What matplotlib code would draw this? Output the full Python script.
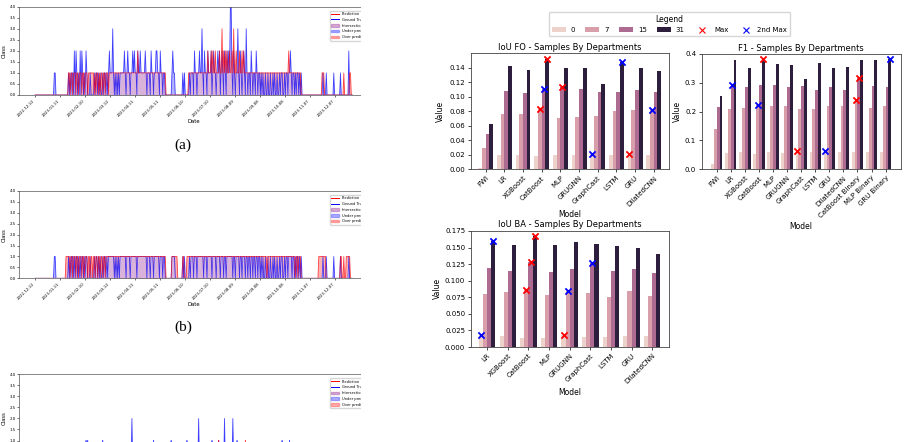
import numpy as np
import pandas as pd
import matplotlib
matplotlib.use("Agg")
import matplotlib.pyplot as plt
from matplotlib.patches import Patch, Rectangle
from matplotlib.lines import Line2D
import seaborn as sns

W, H = 907, 442

# ---------------- time series (one digit per day, from 2022-12-12) ----------------
start_date = "2022-12-12"

gt_a = ("0000000000 0000000000 0001100000 0000000000 1010110202 1010202101 0210001000 0101101010 "
        "0101101012 1113101010 1011111210 1211011212 1102112111 1121011102 1101122110 2110110000 "
        "0000121100 0000000101 0000010111 0211011211 3102110211 1201211012 1201210210 2121441021 "
        "0113102101 2103101102 1011021011 0101001001 0010010100 1001011001 0110112101 1010110101 "
        "0000000000 0000000000 0000010001 0000000010 0000001000 0000002000 0")
pred_a = ("0000000000 0000000000 0000000000 0000000000 1101101110 1101110110 1110111111 1010110101 "
          "1011011101 1111111111 1111111111 1111111111 1112111111 1111111111 1111111111 1111111000 "
          "0000000000 0000000000 0000111111 1111111111 1111111211 1212112111 1211312121 2112112131 "
          "1211121121 2111111111 1111111111 1111111111 1111111111 1111111111 1111211111 1111111110 "
          "0000000000 0000000000 0000111000 0000000000 0000000000 1000000110 0")

gt_b = ("0000000000 0000000000 0001100000 0000000000 1010110101 1010101101 0110001000 0101101010 "
        "0101101011 1111101010 1011111110 1111011111 1101111111 1111011101 1101111110 1110110000 "
        "0000111100 0000000101 0000010111 0111011111 1101110111 1101111011 1101110110 1111111011 "
        "0111101101 1101101101 1011011011 0101001001 0010010100 1001011001 0110111101 1010110101 "
        "0000000000 0000000000 0000010001 0000000010 0000001000 0000001000 0")
pred_b = ("0000000000 0000000000 0000000000 0000000111 1101101110 1101110110 1110110110 1101101101 "
          "1011011111 1111111111 1111111111 1111111111 1111111111 1111111111 1111111111 1111111000 "
          "0000111111 1000000110 0011111111 1111111111 1111111111 1111111111 1111111111 1111111111 "
          "1111111111 1111111111 1111111111 1111111101 1111111111 1111111111 1111111111 1101101110 "
          "0000000000 0000000000 1111111110 0000000000 0000001100 1001111100 0")

# panel (c): only the upper part is visible, non-zero days listed
n_days_c = 381
gt_c_days = [61, 63, 81, 116, 142, 163, 182, 196, 212, 220, 227, 237, 242, 296, 305]
gt_c_vals = [1, 1, 1, 2, 1, 1, 1, 2, 1, 1, 2, 2, 1, 1, 1]
pred_c_days = [220, 252]
pred_c_vals = [1, 1]

# ---------------- bar chart data ----------------
days = [0, 7, 15, 31]

fo_models = ["FWI", "LR", "XGBoost", "CatBoost", "MLP", "GRUGNN", "GraphCast", "LSTM", "GRU", "DilatedCNN"]
fo_0 = [0.002, 0.019, 0.019, 0.018, 0.019, 0.019, 0.0205, 0.020, 0.021, 0.020]
fo_7 = [0.029, 0.076, 0.076, 0.0825, 0.070, 0.072, 0.074, 0.080, 0.081, 0.082]
fo_15 = [0.048, 0.108, 0.105, 0.111, 0.113, 0.110, 0.107, 0.106, 0.109, 0.107]
fo_31 = [0.062, 0.142, 0.136, 0.152, 0.140, 0.140, 0.118, 0.147, 0.139, 0.135]

f1_models = ["FWI", "LR", "XGBoost", "CatBoost", "MLP", "GRUGNN", "GraphCast", "LSTM", "GRU",
             "DilatedCNN", "CatBoost Binary", "MLP Binary", "GRU Binary"]
f1_0 = [0.019, 0.057, 0.059, 0.054, 0.059, 0.057, 0.063, 0.061, 0.0625, 0.0615, 0.061, 0.060, 0.060]
f1_7 = [0.141, 0.208, 0.214, 0.222, 0.221, 0.218, 0.208, 0.208, 0.220, 0.219, 0.240, 0.212, 0.218]
f1_15 = [0.216, 0.294, 0.285, 0.293, 0.292, 0.284, 0.289, 0.276, 0.287, 0.276, 0.316, 0.290, 0.285]
f1_31 = [0.255, 0.378, 0.352, 0.382, 0.366, 0.362, 0.313, 0.369, 0.350, 0.354, 0.379, 0.379, 0.381]

ba_models = ["LR", "XGBoost", "CatBoost", "MLP", "GRUGNN", "GraphCast", "LSTM", "GRU", "DilatedCNN"]
ba_0 = [0.0176, 0.016, 0.014, 0.013, 0.0178, 0.015, 0.015, 0.016, 0.016]
ba_7 = [0.080, 0.083, 0.0857, 0.078, 0.0848, 0.081, 0.076, 0.0845, 0.077]
ba_15 = [0.119, 0.114, 0.128, 0.113, 0.118, 0.126, 0.114, 0.118, 0.111]
ba_31 = [0.160, 0.154, 0.167, 0.154, 0.158, 0.155, 0.153, 0.149, 0.140]


def parse(s):
    return np.array([int(c) for c in s if c.isdigit()], dtype=float)


def sparse(n, idx, vals):
    out = np.zeros(n)
    out[idx] = vals
    return out


fig = plt.figure(figsize=(W / 100, H / 100), dpi=100)


def px_axes(left, top, right, bottom):
    return fig.add_axes([left / W, 1 - bottom / H, (right - left) / W, (bottom - top) / H])


def draw_series(ax, gt, pred):
    x = pd.date_range(start_date, periods=len(gt), freq="D")
    ax.fill_between(x, 0, np.minimum(gt, pred), color="purple", alpha=0.3, lw=0)
    ax.fill_between(x, pred, gt, where=gt > pred, interpolate=True, color="blue", alpha=0.3, lw=0)
    ax.fill_between(x, gt, pred, where=pred > gt, interpolate=True, color="red", alpha=0.3, lw=0)
    ax.plot(x, gt, color="blue", lw=0.6, alpha=0.7)
    ax.plot(x, pred, color="red", lw=0.6, alpha=0.7)

    t0 = pd.Timestamp(start_date)
    ax.set_xlim(t0 - pd.Timedelta(days=19), t0 + pd.Timedelta(days=399))
    ax.set_ylim(0, 4)
    ax.set_yticks(np.arange(0, 4.01, 0.5))
    ticks = pd.date_range(start_date, periods=13, freq="30D")
    ax.set_xticks(ticks)
    ax.set_xticklabels([t.strftime("%Y-%m-%d") for t in ticks], rotation=45, ha="right")
    ax.tick_params(labelsize=2.8, length=1.5, width=0.4, pad=1)
    ax.set_ylabel("Class", fontsize=3.8, labelpad=2)
    ax.set_xlabel("Date", fontsize=3.8, labelpad=1)
    for sp in ax.spines.values():
        sp.set_linewidth(0.5)
        sp.set_color("#555555")

    handles = [Line2D([], [], color="red", lw=0.7), Line2D([], [], color="blue", lw=0.7),
               Patch(color="purple", alpha=0.3), Patch(color="blue", alpha=0.3), Patch(color="red", alpha=0.3)]
    labels = ["Prediction", "Ground Truth", "Intersection", "Under prediction", "Over prediction"]
    top_px = (1 - ax.get_position().y1) * H
    ax.legend(handles, labels, loc="upper left", bbox_to_anchor=(328 / W, 1 - (top_px + 2) / H),
              bbox_transform=fig.transFigure, fontsize=2.6, frameon=True, handlelength=2.2,
              borderpad=0.4, labelspacing=0.5, framealpha=0.8)


ax_a = px_axes(19.3, 6.7, 368, 95)
draw_series(ax_a, parse(gt_a), parse(pred_a))
ax_b = px_axes(19.3, 191, 368, 278.3)
draw_series(ax_b, parse(gt_b), parse(pred_b))
ax_c = px_axes(19.3, 374.3, 368, 462.6)
draw_series(ax_c, sparse(n_days_c, gt_c_days, gt_c_vals), sparse(n_days_c, pred_c_days, pred_c_vals))

fig.text(183 / W, 1 - 145 / H, "(a)", ha="center", va="center", family="Liberation Serif", fontsize=11)
fig.text(183 / W, 1 - 327 / H, "(b)", ha="center", va="center", family="Liberation Serif", fontsize=11)

# the left figure is cropped at its right edge
fig.add_artist(Rectangle((361 / W, 0), (432 - 361) / W, 1, transform=fig.transFigure,
                         facecolor="white", edgecolor="none", zorder=10))

# ---------------- bar charts ----------------
cmap = sns.cubehelix_palette(as_cmap=True)
hue_colors = [cmap(d / max(days)) for d in days]
offsets = [-0.3, -0.1, 0.1, 0.3]


def draw_bars(ax, models, series, title, xlim, ylabel_x):
    x = np.arange(len(models))
    for j, vals in enumerate(series):
        ax.bar(x + offsets[j], vals, width=0.2, color=hue_colors[j], lw=0)
    for j, vals in enumerate(series):
        vals = np.asarray(vals)
        order = np.argsort(vals)[::-1]
        ax.scatter(x[order[0]] + offsets[j], vals[order[0]], marker="x", color="red", s=20, lw=1.3, zorder=3)
        ax.scatter(x[order[1]] + offsets[j], vals[order[1]], marker="x", color="blue", s=20, lw=1.3, zorder=3)
    ax.set_xlim(*xlim)
    ax.set_xticks(x)
    ax.set_xticklabels(models, rotation=45, ha="right", rotation_mode="anchor")
    ax.tick_params(labelsize=5, length=2.5, width=0.5, pad=1.5)
    ax.set_title(title, fontsize=6, pad=2.5)
    ax.set_xlabel("Model", fontsize=5.5, labelpad=2)
    ax.set_ylabel("Value", fontsize=5.5)
    ax.yaxis.set_label_coords(ylabel_x, 0.5)
    for sp in ax.spines.values():
        sp.set_linewidth(0.6)
        sp.set_color("#444444")


ax_fo = px_axes(470.7, 53.3, 668.7, 169.3)
draw_bars(ax_fo, fo_models, [fo_0, fo_7, fo_15, fo_31], "IoU FO - Samples By Departments",
          (-0.8, 9.8), -0.13)
ax_f1 = px_axes(701.7, 54, 900.7, 169.3)
draw_bars(ax_f1, f1_models, [f1_0, f1_7, f1_15, f1_31], "F1 - Samples By Departments",
          (-1.07, 13.07), -0.10)
ax_f1.set_ylim(0, 0.4)
ax_f1.set_yticks([0.0, 0.1, 0.2, 0.3, 0.4])
ax_ba = px_axes(470.7, 230.7, 668.7, 347)
draw_bars(ax_ba, ba_models, [ba_0, ba_7, ba_15, ba_31], "IoU BA - Samples By Departments",
          (-0.8, 8.8), -0.145)

leg_handles = [Patch(facecolor=c) for c in hue_colors]
leg_handles += [Line2D([], [], marker="x", color="red", ls="none", markersize=4, mew=0.8),
                Line2D([], [], marker="x", color="blue", ls="none", markersize=4, mew=0.8)]
leg_labels = [str(d) for d in days] + ["Max", "2nd Max"]
fig.legend(leg_handles, leg_labels, title="Legend", ncol=6, loc="upper center",
           bbox_to_anchor=(669.5 / W, 1 - 8.5 / H), fontsize=5, title_fontsize=5.5,
           columnspacing=1.5, handletextpad=0.7, borderpad=0.4, frameon=True)

fig.savefig("out.png", dpi=100)
